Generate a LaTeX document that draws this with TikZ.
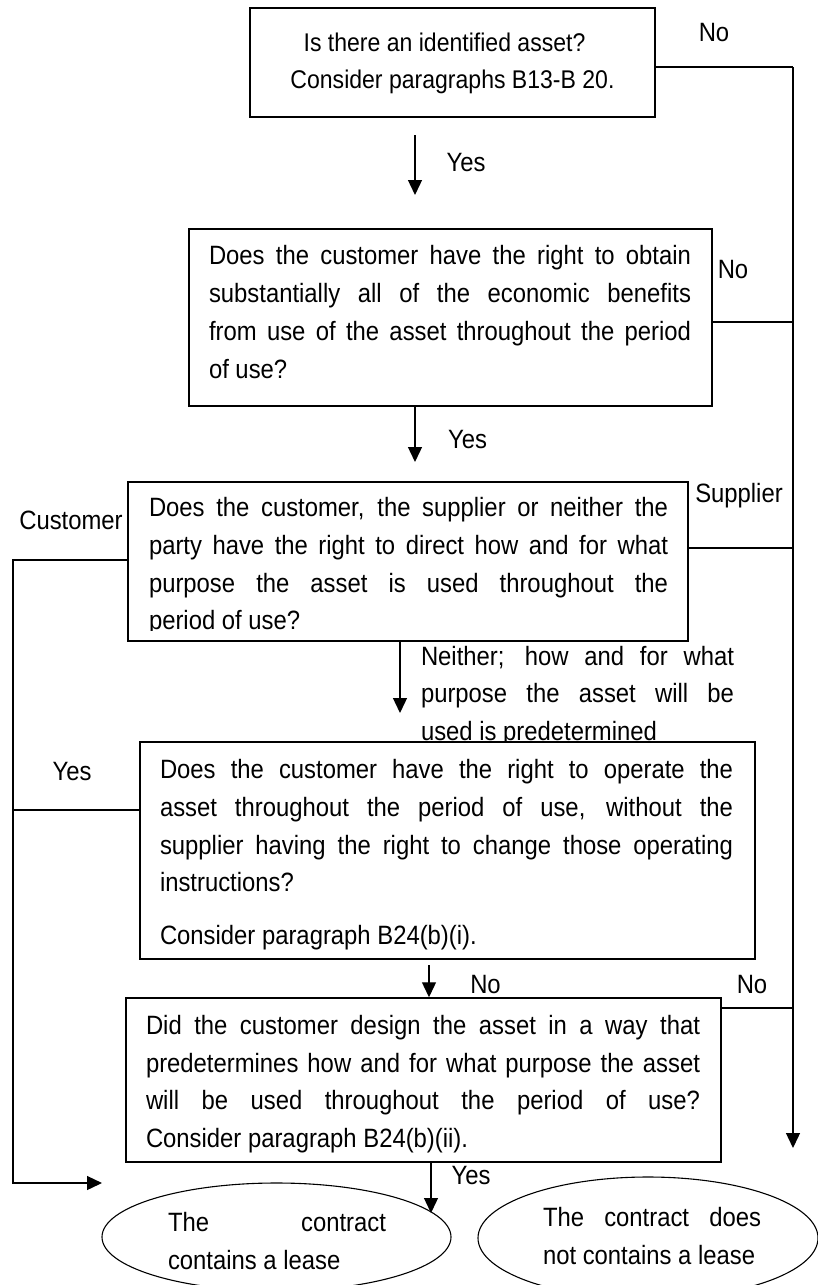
\documentclass[tikz,border=0pt]{standalone}
\usepackage{fontspec}
\setmainfont{Liberation Sans}[FakeStretch=0.9]
\usetikzlibrary{arrows.meta,shapes.geometric}
\newcommand{\jl}[1]{\noindent\makebox[\hsize][s]{#1}\par}
\newcommand{\lastl}[1]{\noindent\makebox[\hsize][l]{#1}\par}
\tikzset{
  box/.style={draw, line width=1.5pt, inner sep=0pt, fill=white},
  txt/.style={inner sep=0pt, text width=#1, align=justify, font=\fontsize{26.5pt}{37.7pt}\selectfont},
  lbl/.style={inner sep=0pt, font=\fontsize{26.5pt}{29pt}\selectfont},
  con/.style={line width=1.3pt},
  arr/.style={line width=1.3pt, -{Triangle[length=15pt,width=14pt]}},
  oval/.style={draw, ellipse, line width=1.1pt, inner sep=0pt},
}
\begin{document}
\begin{tikzpicture}[x=1pt,y=-1pt]
\useasboundingbox (0,0) rectangle (818,1285);
\clip (0,0) rectangle (818,1285);

% coordinates for free ends and the side rails
\coordinate (rt) at (793,67);
\coordinate (rb) at (793,1148);
\coordinate (lt) at (13,560);
\coordinate (lb) at (13,1183);
\coordinate (la) at (102,1183);
\coordinate (y1a) at (415,135);
\coordinate (y1b) at (415,195);
\coordinate (y2b) at (415,462);
\coordinate (nb) at (400,713);
\coordinate (n45a) at (429,965);
\coordinate (y3) at (431,1213);

% box 1
\node[box, minimum width=405pt, minimum height=109pt] (b1) at (452.5,62.5) {};
\node[inner sep=0pt, align=center, font=\fontsize{25.6pt}{37pt}\selectfont] (t1) at (452.5,63)
  {Is there an identified asset?\hspace*{16pt}\\Consider paragraphs B13-B 20.};

% box 2
\node[box, minimum width=523pt, minimum height=177pt] (b2) at (450.5,317.5) {};
\node[txt=482pt] (t2) at (450,312) {%
  \jl{Does the customer have the right to obtain}
  \jl{substantially all of the economic benefits}
  \jl{from use of the asset throughout the period}
  \lastl{of use?}};

% box 3 (text clipped by the inner margin)
\node[box, minimum width=560pt, minimum height=159pt] (b3) at (408,561.5) {};
\begin{scope}
  \clip (128,482) rectangle (688,630);
  \node[txt=519pt] (t3) at (408.5,566.5) {%
    \jl{Does the customer, the supplier or neither the}
    \jl{party have the right to direct how and for what}
    \jl{purpose the asset is used throughout the}
    \lastl{period of use?}};
\end{scope}

% Neither label (partly covered by box 4)
\node[txt=313pt] (tn) at (577.5,696) {%
  \jl{Neither; how and for what}
  \jl{purpose the asset will be}
  \lastl{used is predetermined}};

% box 4
\node[box, minimum width=615pt, minimum height=217pt] (b4) at (447.5,850.5) {};
\node[txt=573pt] (t4) at (446.5,855) {%
  \jl{Does the customer have the right to operate the}
  \jl{asset throughout the period of use, without the}
  \jl{supplier having the right to change those operating}
  \lastl{instructions?}
  \vspace{15.3pt}
  \lastl{Consider paragraph B24(b)(i).}};

% box 5
\node[box, minimum width=595pt, minimum height=164pt] (b5) at (423.5,1080) {};
\node[txt=554pt] (t5) at (423,1084) {%
  \jl{Did the customer design the asset in a way that}
  \jl{predetermines how and for what purpose the asset}
  \jl{will be used throughout the period of use?}
  \lastl{Consider paragraph B24(b)(ii).}};

% outcome ellipses
\node[oval, minimum width=349pt, minimum height=108pt] (e1) at (276.5,1237) {};
\node[txt=218pt] (te1) at (277,1241) {%
  \jl{The contract}
  \lastl{contains a lease}};
\node[oval, minimum width=340pt, minimum height=122pt] (e2) at (648,1238) {};
\node[txt=218pt] (te2) at (652,1236) {%
  \jl{The contract does}
  \lastl{not contains a lease}};

% right rail ("No" / "Supplier" branches)
\draw[con] ([yshift=-4.5pt]b1.east) -- (rt);
\draw[arr] (rt) -- (rb);
\draw[con] ([yshift=-4.5pt]b2.east) coordinate (n2) -- (n2 -| rt);
\draw[con] ([yshift=13.5pt]b3.east) coordinate (n3) -- (n3 -| rt);
\draw[con] ([yshift=72pt]b5.east) coordinate (n5) -- (n5 -| rt);

% left rail ("Customer" / "Yes" branches)
\draw[arr] ([yshift=1.5pt]b3.west) -- (lt) -- (lb) -- (la);
\draw[con] ([yshift=40.5pt]b4.west) coordinate (n4) -- (n4 -| lt);

% downward arrows
\draw[arr] (y1a) -- (y1b);
\draw[arr] (b2.south -| y2b) -- (y2b);
\draw[arr] (b3.south -| nb) -- (nb);
\draw[arr] (n45a) -- (n45a |- b5.north);
\draw[arr] (b5.south -| y3) -- (y3);

% labels
\node[lbl] (lno1) at (714,33) {No};
\node[lbl] (lyes1) at (466,163) {Yes};
\node[lbl] (lno2) at (733,270) {No};
\node[lbl] (lyes2) at (467.5,440) {Yes};
\node[lbl] (lsup) at (739,495.5) {Supplier};
\node[lbl] (lcus) at (71,520) {Customer};
\node[lbl] (lyes3) at (72,772) {Yes};
\node[lbl] (lno3) at (485.5,985) {No};
\node[lbl] (lno4) at (752,985) {No};
\node[lbl] (lyes4) at (471,1175) {Yes};
\end{tikzpicture}
\end{document}
